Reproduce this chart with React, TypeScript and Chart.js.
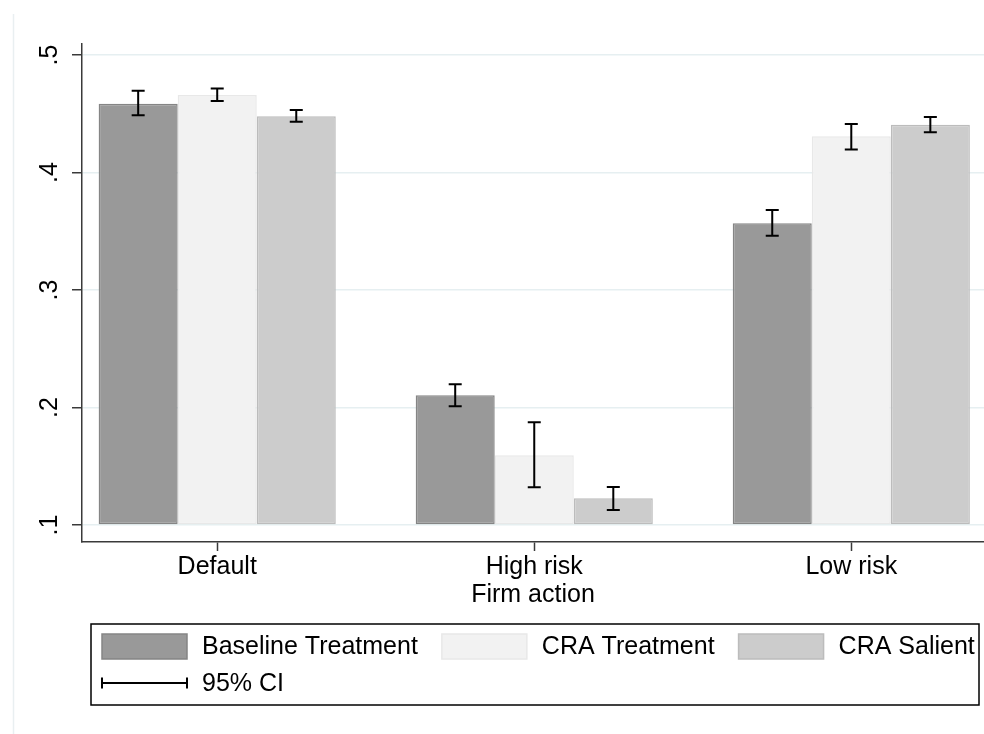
import React, { useEffect, useRef } from "react";
import { Chart, registerables } from "chart.js";

Chart.register(...registerables);

// ---------- data ----------
const categories = ["Default", "High risk", "Low risk"];
const seriesNames = ["Baseline Treatment", "CRA Treatment", "CRA Salient"];

const baselineMean = [0.4586, 0.2104, 0.3568];
const baselineLo = [0.4487, 0.201, 0.3462];
const baselineHi = [0.4696, 0.2197, 0.3681];

const craMean = [0.466, 0.1593, 0.4308];
const craLo = [0.4609, 0.1321, 0.4197];
const craHi = [0.4716, 0.1874, 0.4413];

const salientMean = [0.4478, 0.1227, 0.4407];
const salientLo = [0.4432, 0.1128, 0.4342];
const salientHi = [0.4532, 0.1323, 0.4472];

const yTicks = [0.1, 0.2, 0.3, 0.4, 0.5];
const yTickLabels = [".1", ".2", ".3", ".4", ".5"];
const xTitle = "Firm action";
const ciLabel = "95% CI";
const barBase = 0.1;

// ---------- styles ----------
const FONT = "'Liberation Sans', Arial, Helvetica, sans-serif";
const FS = 25;
const fills = ["#999999", "#f2f2f2", "#cccccc"];
const borders = ["#858585", "#e8e8e8", "#bcbcbc"];
const axisColor = "#3a3a3a";
const gridColor = "#e6eff1";

const meanSeries = [baselineMean, craMean, salientMean];
const loSeries = [baselineLo, craLo, salientLo];
const hiSeries = [baselineHi, craHi, salientHi];

const errorBarPlugin = {
  id: "errorBars",
  afterDatasetsDraw(chart: any) {
    const ctx = chart.ctx;
    const ys = chart.scales.y;
    chart.data.datasets.forEach((ds: any, di: number) => {
      const meta = chart.getDatasetMeta(di);
      meta.data.forEach((bar: any, i: number) => {
        const x = bar.x;
        const y1 = ys.getPixelForValue(loSeries[di][i]);
        const y2 = ys.getPixelForValue(hiSeries[di][i]);
        ctx.save();
        ctx.strokeStyle = "#000";
        ctx.lineWidth = 2;
        ctx.beginPath();
        ctx.moveTo(x, y1);
        ctx.lineTo(x, y2);
        ctx.moveTo(x - 6.5, y1);
        ctx.lineTo(x + 6.5, y1);
        ctx.moveTo(x - 6.5, y2);
        ctx.lineTo(x + 6.5, y2);
        ctx.stroke();
        ctx.restore();
      });
    });
  },
};

const legendPlugin = {
  id: "stataLegend",
  afterDraw(chart: any) {
    const ctx = chart.ctx;
    ctx.save();
    // faint outer frame line
    ctx.strokeStyle = "#e9eff1";
    ctx.lineWidth = 1.5;
    ctx.beginPath();
    ctx.moveTo(13.5, 14);
    ctx.lineTo(13.5, 734);
    ctx.stroke();

    const boxL = 91, boxT = 624, boxR = 979, boxB = 705;
    ctx.strokeStyle = "#000";
    ctx.lineWidth = 1.5;
    ctx.strokeRect(boxL, boxT, boxR - boxL, boxB - boxT);

    ctx.font = `${FS}px ${FONT}`;
    ctx.textBaseline = "middle";
    ctx.textAlign = "left";
    const sw = 85, sh = 25;
    let x = 102;
    const rowY = 646.5;
    seriesNames.forEach((name, i) => {
      ctx.fillStyle = fills[i];
      ctx.fillRect(x, rowY - sh / 2, sw, sh);
      ctx.strokeStyle = borders[i];
      ctx.lineWidth = 1.5;
      ctx.strokeRect(x, rowY - sh / 2, sw, sh);
      ctx.fillStyle = "#000";
      ctx.fillText(name, x + sw + 15, rowY + 1);
      x += sw + 15 + ctx.measureText(name).width + 24;
    });
    // CI row
    const ciY = 683;
    ctx.strokeStyle = "#000";
    ctx.lineWidth = 2;
    ctx.beginPath();
    ctx.moveTo(102, ciY);
    ctx.lineTo(187, ciY);
    ctx.moveTo(102, ciY - 5.5);
    ctx.lineTo(102, ciY + 5.5);
    ctx.moveTo(187, ciY - 5.5);
    ctx.lineTo(187, ciY + 5.5);
    ctx.stroke();
    ctx.fillStyle = "#000";
    ctx.fillText(ciLabel, 202, ciY + 1);
    ctx.restore();
  },
};

export default function App() {
  const ref = useRef<HTMLCanvasElement | null>(null);

  useEffect(() => {
    if (!ref.current) return;
    const datasets = seriesNames.map((name, di) => ({
      label: name,
      data: meanSeries[di].map((v, i) => ({ x: i, y: v })),
      backgroundColor: fills[di],
      borderColor: borders[di],
      borderWidth: 1.5,
      borderSkipped: false,
      base: barBase,
      categoryPercentage: 0.748,
      barPercentage: 1,
    }));

    const chart = new Chart(ref.current, {
      type: "bar",
      data: { datasets } as any,
      options: {
        animation: false,
        responsive: false,
        devicePixelRatio: 1,
        layout: { padding: { top: 44, left: 0, right: 0, bottom: 0 } },
        plugins: {
          legend: { display: false },
          tooltip: { enabled: false },
          title: { display: false },
        },
        scales: {
          x: {
            type: "linear",
            offset: false,
            min: -0.4265,
            max: 2.4186,
            afterBuildTicks: (scale: any) => {
              scale.ticks = categories.map((_, i) => ({ value: i }));
            },
            afterFit: (scale: any) => {
              scale.height = 192;
            },
            ticks: {
              autoSkip: false,
              maxRotation: 0,
              minRotation: 0,
              padding: 1,
              color: "#000",
              font: { family: FONT, size: FS, lineHeight: 1.2 },
              callback: (v: any) => categories[Math.round(Number(v))] ?? "",
            },
            grid: {
              offset: false,
              drawOnChartArea: false,
              drawTicks: true,
              tickLength: 9,
              tickColor: axisColor,
              tickWidth: 1.5,
            },
            border: { display: true, color: axisColor, width: 1.5 },
            title: {
              display: true,
              text: xTitle,
              color: "#000",
              font: { family: FONT, size: FS, lineHeight: 1.2 },
              padding: { top: 0, bottom: 124 },
            },
          },
          y: {
            type: "linear",
            min: 0.0855,
            max: 0.5094,
            afterBuildTicks: (scale: any) => {
              scale.ticks = yTicks.map((v) => ({ value: v }));
            },
            afterFit: (scale: any) => {
              scale.width = 82;
            },
            ticks: {
              minRotation: 90,
              maxRotation: 90,
              crossAlign: "center",
              padding: 11,
              color: "#000",
              font: { family: FONT, size: FS },
              callback: (v: any) => {
                const idx = yTicks.findIndex((t) => Math.abs(t - Number(v)) < 1e-6);
                return idx >= 0 ? yTickLabels[idx] : "";
              },
            },
            grid: {
              color: gridColor,
              lineWidth: 1.5,
              drawTicks: true,
              tickLength: 10,
              tickColor: axisColor,
              tickWidth: 1.5,
            },
            border: { display: true, color: axisColor, width: 1.5 },
          },
        },
      } as any,
      plugins: [errorBarPlugin, legendPlugin],
    });
    return () => chart.destroy();
  }, []);

  return (
    <div style={{ position: "fixed", left: 0, top: 0, width: 984, height: 734, background: "#fff" }}>
      <canvas ref={ref} width={984} height={734} style={{ display: "block" }} />
    </div>
  );
}
